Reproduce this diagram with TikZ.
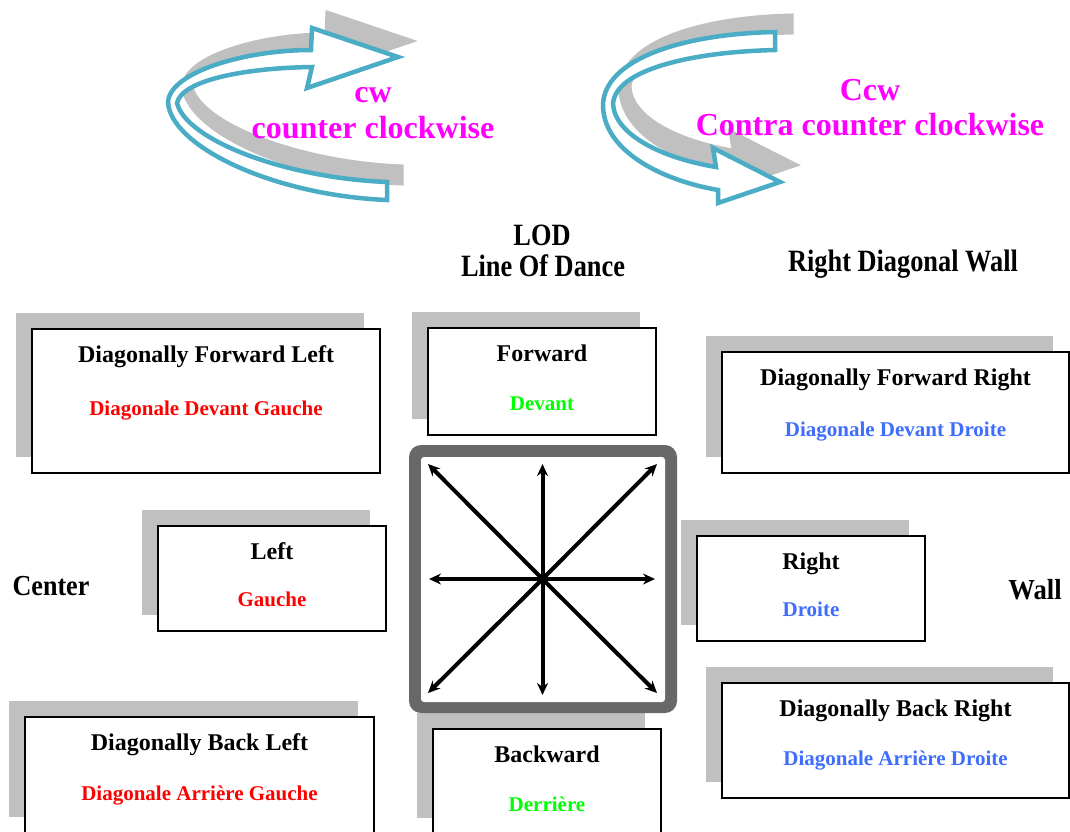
\documentclass[tikz,border=0pt]{standalone}
\usepackage{fontspec}
\setmainfont{Liberation Serif}
\usetikzlibrary{arrows.meta,calc,fit}
\definecolor{tealc}{HTML}{4BACC6}
\definecolor{shad}{HTML}{C0C0C0}
\definecolor{sqgray}{HTML}{686868}
\definecolor{magt}{HTML}{FF00FF}
\definecolor{redt}{HTML}{FF0000}
\definecolor{greent}{HTML}{00FF00}
\definecolor{bluet}{HTML}{3F6EFF}
\newcommand\narrowtxt[2]{\scalebox{#1}[1]{#2}}
\tikzset{
  boxst/.style={draw=black, line width=2pt, fill=white, inner sep=0pt},
  shadowst/.style={fill=shad},
  titlest/.style={font=\fontsize{24}{28}\selectfont\bfseries, anchor=base, inner sep=0pt},
  subst/.style={font=\fontsize{21}{25}\selectfont\bfseries, anchor=base, inner sep=0pt},
  magst/.style={font=\fontsize{32}{36}\selectfont\bfseries, text=magt, anchor=base, inner sep=0pt},
  lblst/.style={font=\fontsize{31}{35}\selectfont\bfseries, anchor=base, inner sep=0pt},
  sidest/.style={font=\fontsize{29}{33}\selectfont\bfseries, anchor=base, inner sep=0pt},
  turnst/.style={draw=tealc, line width=4.5pt, fill=white, line join=miter},
  turnshadow/.style={fill=shad, draw=shad, line width=3pt},
  dirarrow/.style={line width=4pt, -{Stealth[length=12pt,width=11pt]}},
}
\newcommand\dancebox[9]{%
  \fill[shadowst] ({#2-16},{#3-16}) rectangle ({#4-16},{#5-16});
  \node[boxst, fit={(#2,#3) (#4,#5)}] (#1) {};
  \node[titlest] (#1-t) at ($(#1.north)+(0,34)$) {#6};
  \node[subst, text=#8] (#1-s) at ($(#1.north)+(0,#9)$) {#7};
}
\begin{document}
\begin{tikzpicture}[x=1pt,y=-1pt]
\useasboundingbox (0,0) rectangle (1070,831);
\clip (0,0) rectangle (1070,831);
\fill[white] (0,0) rectangle (1070,831);

% cw turning arrow
\path[turnshadow, shift={(15,-16)}]
  (311,50) .. controls (245,50) and (170,72) .. (168,102)
  .. controls (170,145) and (270,195) .. (387,200)
  -- (387,182)
  .. controls (285,178) and (186,140) .. (177,103)
  .. controls (182,80) and (245,68) .. (312,67)
  -- (307,88) -- (398,57) -- (312,28) -- cycle;
\path[turnst]
  (311,50) .. controls (245,50) and (170,72) .. (168,102)
  .. controls (170,145) and (270,195) .. (387,200)
  -- (387,182)
  .. controls (285,178) and (186,140) .. (177,103)
  .. controls (182,80) and (245,68) .. (312,67)
  -- (307,88) -- (398,57) -- (312,28) -- cycle;

% ccw turning arrow
\path[turnshadow, shift={(17,-17)}]
  (775,32) .. controls (680,34) and (604,60) .. (603,105)
  .. controls (603,150) and (660,180) .. (718,190)
  -- (718,203) -- (780,182) -- (713,148) -- (716,167)
  .. controls (662,158) and (615,135) .. (613,104)
  .. controls (615,70) and (690,52) .. (775,50)
  -- cycle;
\path[turnst]
  (775,32) .. controls (680,34) and (604,60) .. (603,105)
  .. controls (603,150) and (660,180) .. (718,190)
  -- (718,203) -- (780,182) -- (713,148) -- (716,167)
  .. controls (662,158) and (615,135) .. (613,104)
  .. controls (615,70) and (690,52) .. (775,50)
  -- cycle;

% magenta labels
\node[magst] (cw) at (373,102) {cw};
\node[magst] (cwtxt) at (373,138) {counter clockwise};
\node[magst] (ccw) at (870,100) {Ccw};
\node[magst] (ccwtxt) at (870,135) {Contra counter clockwise};

% orientation labels
\node[lblst] (lod) at (542,245) {\narrowtxt{0.85}{LOD}};
\node[lblst] (lodtxt) at (543,276) {\narrowtxt{0.85}{Line Of Dance}};
\node[lblst] (rdw) at (903,271) {\narrowtxt{0.85}{Right Diagonal Wall}};
\node[sidest] (center) at (51,595) {\narrowtxt{0.9}{Center}};
\node[sidest] (wall) at (1035,599) {\narrowtxt{0.92}{Wall}};

% boxes
\dancebox{dfl}{32}{329}{380}{473}{Diagonally Forward Left}{Diagonale Devant Gauche}{redt}{87}
\dancebox{fwd}{428}{328}{656}{435}{Forward}{Devant}{greent}{83}
\dancebox{dfr}{722}{352}{1069}{473}{Diagonally Forward Right}{Diagonale Devant Droite}{bluet}{85}
\dancebox{lft}{158}{526}{386}{631}{Left}{Gauche}{redt}{81}
\dancebox{rgt}{697}{536}{925}{641}{Right}{Droite}{bluet}{81}
\dancebox{dbl}{25}{717}{374}{833}{Diagonally Back Left}{Diagonale Arrière Gauche}{redt}{84}
\dancebox{bwd}{433}{729}{661}{834}{Backward}{Derrière}{greent}{83}
\dancebox{dbr}{722}{683}{1069}{798}{Diagonally Back Right}{Diagonale Arrière Droite}{bluet}{83}

% central compass square
\node[fit={(409,445) (677,713)}, fill=sqgray, rounded corners=12pt, inner sep=0pt] (sqo) {};
\node[fit={(421,457) (665,702)}, fill=white, rounded corners=3pt, inner sep=0pt] (sqi) {};
\coordinate (c0) at (542.5,579);
\coordinate (dN) at (542.5,464);
\coordinate (dS) at (542.5,695);
\coordinate (dW) at (429,579);
\coordinate (dE) at (655,579);
\coordinate (dNW) at (428,464);
\coordinate (dNE) at (657,464);
\coordinate (dSW) at (428,693);
\coordinate (dSE) at (657,693);
\node[circle, fill=black, inner sep=0pt, minimum size=10pt] (ctr) at (c0) {};
\foreach \d in {dN,dS,dW,dE,dNW,dNE,dSW,dSE}
  \draw[dirarrow] (ctr.center) -- (\d);
\end{tikzpicture}
\end{document}
